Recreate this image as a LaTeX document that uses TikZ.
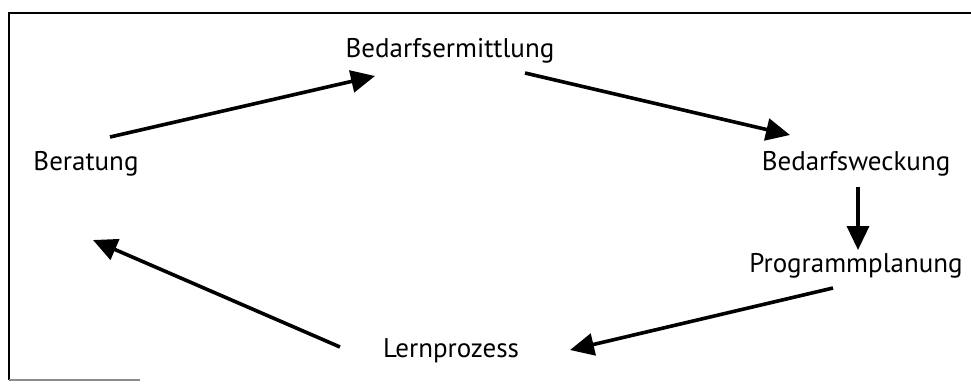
\documentclass[tikz,border=0pt]{standalone}
\usepackage{fontspec}
\setmainfont{PT Sans}
\usetikzlibrary{arrows.meta}
\begin{document}
\begin{tikzpicture}[x=1pt,y=-1pt,
  label text/.style={inner sep=0pt,anchor=base,font=\fontsize{27}{32}\selectfont},
  flow/.style={line width=3.6pt,-{Triangle[length=24pt,width=22pt]}},
  frame/.style={line width=1.8pt}]
\useasboundingbox (0,0) rectangle (971,383);
% open frame: top and left edges, faint piece of the bottom edge
\draw[frame] (971,13) -- (9,13) -- (9,380);
\draw[frame,black!45] (9,380) -- (140,380);
% stages of the cycle
\node[label text] (ermittlung) at (450,57) {Bedarfsermittlung};
\node[label text] (beratung) at (86,170) {Beratung};
\node[label text] (weckung) at (856,170) {Bedarfsweckung};
\node[label text] (planung) at (856,272) {Programmplanung};
\node[label text] (lernen) at (451,357) {Lernprozess};
% arrow end points
\coordinate (a1) at (110,137); \coordinate (b1) at (375,76);
\coordinate (a2) at (525,73);  \coordinate (b2) at (790,135);
\coordinate (a3) at (858,187); \coordinate (b3) at (858,250);
\coordinate (a4) at (833,288); \coordinate (b4) at (570,350);
\coordinate (a5) at (340,347); \coordinate (b5) at (93,240);
\draw[flow] (a1) -- (b1);
\draw[flow] (a2) -- (b2);
\draw[flow] (a3) -- (b3);
\draw[flow] (a4) -- (b4);
\draw[flow] (a5) -- (b5);
\end{tikzpicture}
\end{document}
